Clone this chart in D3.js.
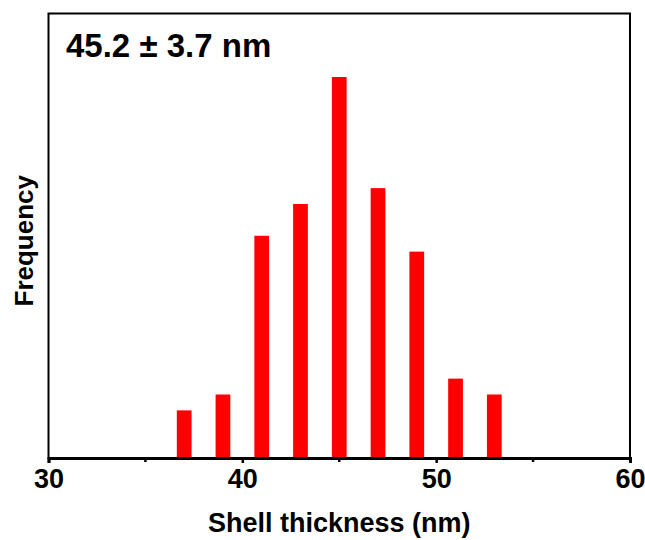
<!DOCTYPE html>
<html lang="en">
<head>
  <meta charset="UTF-8">
  <title>Shell thickness histogram</title>
  <script src="https://d3js.org/d3.v7.min.js"></script>
  <style>
    body { margin: 0; background: #fff; }
    text { font-family: "Liberation Sans", Arial, sans-serif; font-weight: bold; fill: #000; }
  </style>
</head>
<body>
  <script>
    // bin centres (nm) and counts
    const thickness = [37, 39, 41, 43, 45, 47, 49, 51, 53];
    const counts = [3, 4, 14, 16, 24, 17, 13, 5, 4];
    const majorTicks = [30, 40, 50, 60];
    const minorTicks = [35, 45, 55];
    const label = "45.2 \u00b1 3.7 nm";

    const width = 645, height = 540;
    const margin = { top: 13.5, right: 15, bottom: 82, left: 48.5 };
    const barWidth = 0.76; // in nm

    const svg = d3.select("body")
      .append("svg")
      .attr("width", width)
      .attr("height", height);

    const x = d3.scaleLinear()
      .domain([30, 60])
      .range([margin.left, width - margin.right]);

    const y = d3.scaleLinear()
      .domain([0, 28])
      .range([height - margin.bottom, margin.top]);

    // bars
    svg.append("g")
      .attr("fill", "#ff0000")
      .selectAll("rect")
      .data(thickness)
      .join("rect")
      .attr("x", d => x(d - barWidth / 2))
      .attr("width", d => x(d + barWidth / 2) - x(d - barWidth / 2))
      .attr("y", (d, i) => y(counts[i]))
      .attr("height", (d, i) => y(0) - y(counts[i]));

    // frame
    svg.append("rect")
      .attr("x", x(30))
      .attr("y", y(28))
      .attr("width", x(60) - x(30))
      .attr("height", y(0) - y(28))
      .attr("fill", "none")
      .attr("stroke", "#000")
      .attr("stroke-width", 2);

    // bottom axis
    const xAxis = svg.append("g")
      .attr("transform", `translate(0,${y(0)})`)
      .call(d3.axisBottom(x).tickValues(majorTicks).tickSize(5).tickPadding(6));
    xAxis.select(".domain").attr("stroke-width", 3);
    xAxis.selectAll(".tick line").attr("stroke-width", 2.5);
    xAxis.selectAll(".tick text")
      .attr("font-size", 27)
      .style("font-family", "'Liberation Sans', Arial, sans-serif")
      .style("font-weight", "bold");

    svg.append("g")
      .selectAll("line")
      .data(minorTicks)
      .join("line")
      .attr("x1", d => x(d))
      .attr("x2", d => x(d))
      .attr("y1", y(0))
      .attr("y2", y(0) + 4)
      .attr("stroke", "#000")
      .attr("stroke-width", 2.5);

    // titles
    svg.append("text")
      .attr("x", (x(30) + x(60)) / 2)
      .attr("y", 532)
      .attr("text-anchor", "middle")
      .attr("font-size", 27)
      .text("Shell thickness (nm)");

    svg.append("text")
      .attr("transform", `translate(33,${(y(0) + y(28)) / 2 + 5}) rotate(-90)`)
      .attr("text-anchor", "middle")
      .attr("font-size", 26)
      .text("Frequency");

    svg.append("text")
      .attr("x", 66)
      .attr("y", 56.5)
      .attr("font-size", 33)
      .text(label);
  </script>
</body>
</html>
